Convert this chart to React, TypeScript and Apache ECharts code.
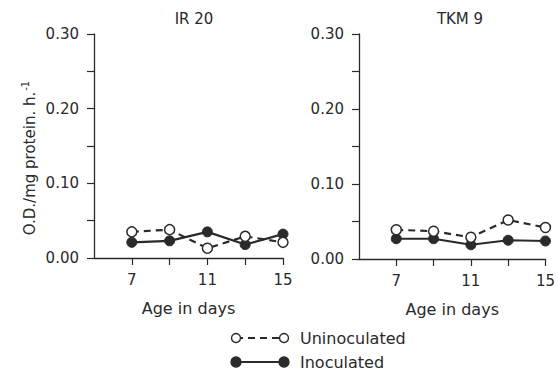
import React, { useEffect, useRef } from "react";
import * as echarts from "echarts";

const ages = [7, 9, 11, 13, 15];
const xTickValues = [7, 9, 11, 13, 15];
const xLabelValues = [7, 11, 15];
const yTickValues = [0, 0.05, 0.1, 0.15, 0.2, 0.25, 0.3];
const yLabelValues = [0, 0.1, 0.2, 0.3];
const panelTitles = ["IR 20", "TKM 9"];
const ir20Uninoculated = [0.035, 0.038, 0.013, 0.029, 0.021];
const ir20Inoculated = [0.021, 0.023, 0.035, 0.018, 0.032];
const tkm9Uninoculated = [0.039, 0.037, 0.029, 0.052, 0.042];
const tkm9Inoculated = [0.027, 0.027, 0.019, 0.025, 0.024];
const seriesNames = ["Uninoculated", "Inoculated"];
const xAxisTitle = "Age in days";

const FONT = "DejaVu Sans";
const INK = "#2a2a2a";

export default function App() {
  const ref = useRef<HTMLDivElement>(null);
  useEffect(() => {
    if (!ref.current) return;
    const chart = echarts.init(ref.current, undefined, { renderer: "svg" });
    const grids = [
      { left: 94, top: 34, width: 189, bottom: 118 },
      { left: 359, top: 34, width: 191, bottom: 117 },
    ];
    const mkX = (i: number) => ({
      type: "value",
      gridIndex: i,
      min: 5,
      max: 15,
      name: xAxisTitle,
      nameLocation: "middle",
      nameGap: 42,
      nameTextStyle: { fontFamily: FONT, fontSize: 16, color: INK },
      axisLine: { show: true, lineStyle: { color: INK, width: 1.3 } },
      axisTick: { show: true, customValues: xTickValues, length: 7, inside: false, lineStyle: { color: INK, width: 1.2 } },
      axisLabel: { customValues: xLabelValues, margin: 14, fontFamily: FONT, fontSize: 15, color: INK },
      splitLine: { show: false },
    });
    const mkY = (i: number) => ({
      type: "value",
      gridIndex: i,
      min: 0,
      max: 0.3,
      axisLine: { show: true, lineStyle: { color: INK, width: 1.3 } },
      axisTick: { show: true, customValues: yTickValues, length: 7, inside: false, lineStyle: { color: INK, width: 1.2 } },
      axisLabel: {
        customValues: yLabelValues,
        margin: 15,
        fontFamily: FONT,
        fontSize: 15,
        color: INK,
        formatter: (v: number) => v.toFixed(2),
      },
      splitLine: { show: false },
    });
    const mkSeries = (name: string, data: number[], idx: number, open: boolean) => ({
      type: "line",
      name,
      xAxisIndex: idx,
      yAxisIndex: idx,
      data: ages.map((a, k) => [a, data[k]]),
      symbol: "circle",
      symbolSize: 10,
      z: open ? 3 : 2,
      lineStyle: { color: INK, width: 2.2, type: open ? [7, 5] : "solid" },
      itemStyle: open
        ? { color: "#ffffff", borderColor: INK, borderWidth: 1.5 }
        : { color: INK, borderColor: INK, borderWidth: 1 },
    });
    const legendY = [338, 362];
    const graphics: any[] = [
      {
        type: "text",
        x: 30,
        y: 158,
        rotation: Math.PI / 2,
        style: {
          text: "O.D./mg protein. h.{sup|-1}",
          fontFamily: FONT,
          fontSize: 15,
          fill: INK,
          align: "center",
          verticalAlign: "middle",
          rich: { sup: { fontSize: 10, fontFamily: FONT, fill: INK, verticalAlign: "top", padding: [0, 0, 9, 1] } },
        },
      },
    ];
    legendY.forEach((y, k) => {
      const open = k === 0;
      graphics.push({
        type: "line",
        shape: { x1: 236, y1: y, x2: 284, y2: y },
        style: { stroke: INK, lineWidth: 2.2, lineDash: open ? [7, 5] : null },
      });
      [236, 284].forEach((cx) =>
        graphics.push({
          type: "circle",
          shape: { cx, cy: y, r: open ? 4.5 : 5 },
          style: { fill: open ? "#fff" : INK, stroke: INK, lineWidth: 1.4 },
        })
      );
      graphics.push({
        type: "text",
        x: 300,
        y,
        style: { text: seriesNames[k], fontFamily: FONT, fontSize: 16, fill: INK, verticalAlign: "middle" },
      });
    });
    chart.setOption({
      animation: false,
      backgroundColor: "#ffffff",
      title: [
        { text: panelTitles[0], left: 189, top: 6, textAlign: "center", textStyle: { fontFamily: FONT, fontSize: 15, fontWeight: "normal", color: INK } },
        { text: panelTitles[1], left: 455, top: 6, textAlign: "center", textStyle: { fontFamily: FONT, fontSize: 15, fontWeight: "normal", color: INK } },
      ],
      grid: grids,
      xAxis: [mkX(0), mkX(1)],
      yAxis: [mkY(0), mkY(1)],
      series: [
        mkSeries(seriesNames[0], ir20Uninoculated, 0, true),
        mkSeries(seriesNames[1], ir20Inoculated, 0, false),
        mkSeries(seriesNames[0], tkm9Uninoculated, 1, true),
        mkSeries(seriesNames[1], tkm9Inoculated, 1, false),
      ],
      graphic: graphics,
    });
    return () => chart.dispose();
  }, []);
  return <div ref={ref} style={{ width: 558, height: 376, position: "absolute", left: 0, top: 0 }} />;
}
